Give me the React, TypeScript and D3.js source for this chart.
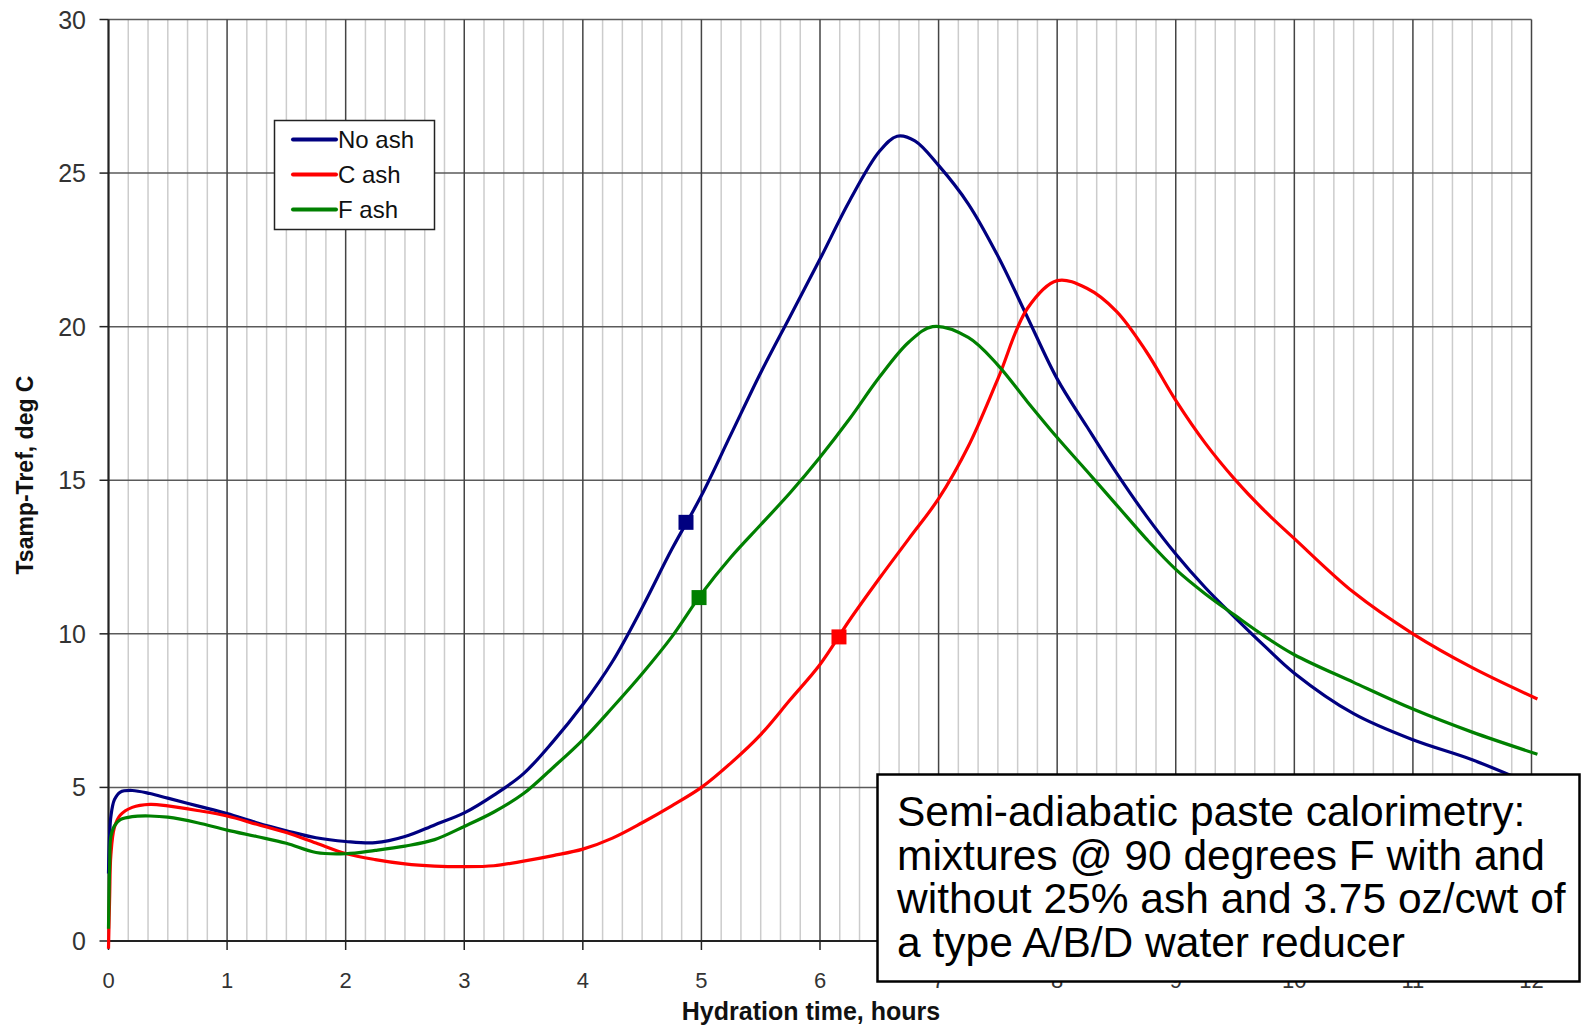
import React from "react";
import * as d3 from "d3";

// ---- data ----
const noAshTime = [0, 0.01, 0.02, 0.05, 0.1, 0.2, 0.35, 0.5, 0.75, 1, 1.25, 1.5, 1.75, 2, 2.25, 2.5, 2.75, 3, 3.25, 3.5, 3.75, 4, 4.25, 4.5, 4.75, 5, 5.25, 5.5, 5.75, 6, 6.25, 6.5, 6.65, 6.8, 7, 7.25, 7.5, 7.75, 8, 8.25, 8.5, 8.75, 9, 9.25, 9.5, 9.75, 10, 10.5, 11, 11.5, 12];
const noAshTemp = [2.2, 3.5, 4.05, 4.6, 4.85, 4.9, 4.8, 4.65, 4.4, 4.15, 3.85, 3.59, 3.36, 3.24, 3.2, 3.4, 3.78, 4.17, 4.75, 5.45, 6.5, 7.7, 9.1, 10.85, 12.75, 14.5, 16.5, 18.5, 20.35, 22.2, 24.1, 25.7, 26.2, 26.05, 25.25, 24.0, 22.3, 20.3, 18.3, 16.75, 15.24, 13.85, 12.6, 11.5, 10.53, 9.6, 8.72, 7.4, 6.55, 5.9, 5.1];

const cAshTime = [0, 0.01, 0.02, 0.05, 0.1, 0.2, 0.35, 0.5, 0.75, 1, 1.25, 1.5, 1.75, 2, 2.25, 2.5, 2.75, 3, 3.25, 3.5, 3.75, 4, 4.25, 4.5, 4.75, 5, 5.25, 5.5, 5.75, 6, 6.25, 6.5, 6.75, 7, 7.25, 7.5, 7.75, 8, 8.25, 8.5, 8.75, 9, 9.25, 9.5, 9.75, 10, 10.5, 11, 11.5, 12.05];
const cAshTemp = [-0.25, 1.5, 2.8, 3.7, 4.1, 4.35, 4.45, 4.4, 4.25, 4.07, 3.8, 3.53, 3.19, 2.85, 2.65, 2.51, 2.44, 2.42, 2.45, 2.6, 2.78, 2.99, 3.35, 3.85, 4.4, 5.0, 5.8, 6.72, 7.86, 9.0, 10.45, 11.8, 13.1, 14.4, 16.1, 18.3, 20.6, 21.5, 21.25, 20.5, 19.2, 17.6, 16.2, 15.02, 14.0, 13.1, 11.35, 10.0, 8.9, 7.88];

const fAshTime = [0, 0.01, 0.02, 0.05, 0.1, 0.2, 0.35, 0.5, 0.75, 1, 1.25, 1.5, 1.75, 2, 2.25, 2.5, 2.75, 3, 3.25, 3.5, 3.75, 4, 4.25, 4.5, 4.75, 5, 5.25, 5.5, 5.75, 6, 6.25, 6.5, 6.75, 6.95, 7.25, 7.5, 7.75, 8, 8.25, 8.5, 8.75, 9, 9.25, 9.5, 9.75, 10, 10.5, 11, 11.5, 12.05];
const fAshTemp = [0.4, 2.5, 3.4, 3.75, 3.95, 4.05, 4.07, 4.03, 3.85, 3.61, 3.4, 3.18, 2.88, 2.84, 2.95, 3.09, 3.3, 3.73, 4.2, 4.8, 5.65, 6.55, 7.6, 8.7, 9.9, 11.3, 12.5, 13.55, 14.6, 15.75, 17.0, 18.35, 19.5, 20.0, 19.65, 18.75, 17.55, 16.39, 15.3, 14.2, 13.1, 12.1, 11.3, 10.6, 9.92, 9.32, 8.42, 7.55, 6.8, 6.08];

const seriesNames = ["No ash", "C ash", "F ash"];
const seriesColors = ["#000080", "#ff0000", "#008000"];
const markerTime = [4.87, 6.16, 4.98];
const markerTemp = [13.63, 9.9, 11.18];

const xTicks = [0, 1, 2, 3, 4, 5, 6, 7, 8, 9, 10, 11, 12];
const yTicks = [0, 5, 10, 15, 20, 25, 30];
const xTitle = "Hydration time, hours";
const yTitle = "Tsamp-Tref, deg C";
const noteLines = [
  "Semi-adiabatic paste calorimetry:",
  "mixtures @ 90 degrees F with and",
  "without 25% ash and 3.75 oz/cwt of",
  "a type A/B/D water reducer",
];

const FONT = "'Liberation Sans', Arial, Helvetica, sans-serif";

export default function App() {
  const W = 1581;
  const H = 1027;
  const x = d3.scaleLinear().domain([0, 12]).range([108.5, 1531.5]);
  const y = d3.scaleLinear().domain([0, 30]).range([941, 19.5]);

  const series = [
    { t: noAshTime, v: noAshTemp },
    { t: cAshTime, v: cAshTemp },
    { t: fAshTime, v: fAshTemp },
  ];

  const line = d3
    .line<[number, number]>()
    .x((d) => x(d[0]))
    .y((d) => y(d[1]))
    .curve(d3.curveCatmullRom.alpha(0.5));

  const minor = d3.range(0, 73).map((i) => i / 6).filter((_, i) => i % 6 !== 0);

  return (
    <svg
      width={W}
      height={H}
      style={{ position: "absolute", left: 0, top: 0, background: "#fff" }}
      fontFamily={FONT}
    >
      <rect x={0} y={0} width={W} height={H} fill="#fff" />
      {/* minor vertical grid */}
      {minor.map((m, i) => (
        <line key={"mn" + i} x1={x(m)} x2={x(m)} y1={y(30)} y2={y(0)} stroke="#cccccc" strokeWidth={1.5} />
      ))}
      {/* horizontal major grid */}
      {yTicks.map((t) => (
        <line key={"hy" + t} x1={x(0)} x2={x(12)} y1={y(t)} y2={y(t)} stroke="#5a5a5a" strokeWidth={1.5} />
      ))}
      {/* vertical major grid */}
      {xTicks.map((t) => (
        <line key={"vx" + t} x1={x(t)} x2={x(t)} y1={y(30)} y2={y(0)} stroke="#444" strokeWidth={1.5} />
      ))}
      {/* axes */}
      <line x1={x(0)} x2={x(0)} y1={y(30)} y2={y(0)} stroke="#222" strokeWidth={2} />
      <line x1={x(0)} x2={x(12)} y1={y(0)} y2={y(0)} stroke="#222" strokeWidth={2} />
      {yTicks.map((t) => (
        <line key={"ty" + t} x1={x(0) - 9} x2={x(0)} y1={y(t)} y2={y(t)} stroke="#222" strokeWidth={1.5} />
      ))}
      {xTicks.map((t) => (
        <line key={"tx" + t} x1={x(t)} x2={x(t)} y1={y(0)} y2={y(0) + 9} stroke="#222" strokeWidth={1.5} />
      ))}
      {yTicks.map((t) => (
        <text key={"ly" + t} x={86} y={y(t) + 9} textAnchor="end" fontSize={25} fill="#333">
          {t}
        </text>
      ))}
      {xTicks.map((t) => (
        <text key={"lx" + t} x={x(t)} y={987.5} textAnchor="middle" fontSize={22} fill="#333">
          {t}
        </text>
      ))}
      <text x={811} y={1020} textAnchor="middle" fontSize={25} fontWeight="bold" fill="#111">
        {xTitle}
      </text>
      <text
        transform={`translate(33,475) rotate(-90)`}
        textAnchor="middle"
        fontSize={23}
        fontWeight="bold"
        fill="#111"
      >
        {yTitle}
      </text>

      {/* series */}
      {series.map((s, i) => (
        <path
          key={"s" + i}
          d={line(s.t.map((tt, j) => [tt, s.v[j]] as [number, number])) || ""}
          fill="none"
          stroke={seriesColors[i]}
          strokeWidth={3.2}
          strokeLinejoin="round"
        />
      ))}
      {markerTime.map((mt, i) => (
        <rect
          key={"mk" + i}
          x={x(mt) - 7.5}
          y={y(markerTemp[i]) - 7.5}
          width={15}
          height={15}
          fill={seriesColors[i]}
        />
      ))}

      {/* legend */}
      <rect x={274.5} y={120.5} width={160} height={109} fill="#fff" stroke="#222" strokeWidth={1.5} />
      {seriesNames.map((n, i) => (
        <g key={"lg" + i}>
          <line x1={293} x2={336} y1={139.5 + i * 35} y2={139.5 + i * 35} stroke={seriesColors[i]} strokeWidth={4} strokeLinecap="round" />
          <text x={338} y={148 + i * 35} fontSize={24} fill="#111">
            {n}
          </text>
        </g>
      ))}

      {/* note box */}
      <rect x={877.5} y={774.5} width={702} height={207} fill="#fff" stroke="#000" strokeWidth={2.5} />
      {noteLines.map((l, i) => (
        <text key={"nt" + i} x={897} y={826 + i * 43.5} fontSize={42.5} fill="#000">
          {l}
        </text>
      ))}
    </svg>
  );
}
